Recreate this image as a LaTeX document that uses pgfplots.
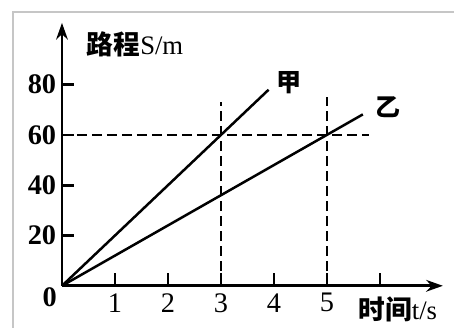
\documentclass[border=0pt]{standalone}
\usepackage{fontspec}
\setmainfont{Liberation Serif}
\newfontfamily\cjk{Noto Sans CJK SC}
\usepackage{pgfplots}
\pgfplotsset{compat=1.18}
\usetikzlibrary{arrows.meta}

\begin{document}
\begin{tikzpicture}
\begin{axis}[
  scale only axis,
  width=228.6pt, height=157.8pt,
  axis lines=left,
  axis line style={line width=1.7pt, -{Stealth[length=10pt,width=7pt]}},
  xmin=0, xmax=7.19, ymin=0, ymax=104.6,
  xtick={1,2,3,4,5,6}, xticklabels={1,2,3,4,5,{}},
  ytick={20,40,60,80},
  tick pos=left,
  tick align=inside,
  major tick length=7.5pt,
  every tick/.style={line width=1.6pt, black},
  /pgf/number format/assume math mode=true,
  ticklabel style={font=\fontsize{17}{17}\selectfont\bfseries},
  xticklabel style={yshift=-1pt, font=\fontsize{17}{17}\selectfont},
  clip=false,
]
% distance-time lines
\addplot[line width=1.5pt] coordinates {(0,0)(3.9,78)};
\addplot[line width=1.5pt] coordinates {(0,0)(5.68,68.2)};
% guide lines
\addplot[line width=1.1pt, dash pattern=on 6pt off 3pt] coordinates {(3,0)(3,73)};
\addplot[line width=1.1pt, dash pattern=on 6pt off 3pt] coordinates {(5,0)(5,75)};
\addplot[line width=1.1pt, dash pattern=on 6pt off 3pt] coordinates {(0,60)(5.8,60)};
\node[font=\cjk\bfseries\fontsize{15}{15}\selectfont] at (axis cs:4.28,81) {甲};
\node[font=\cjk\bfseries\fontsize{15}{15}\selectfont] at (axis cs:6.15,71) {乙};
\node[font=\fontsize{17}{17}\selectfont\bfseries] at (axis cs:-0.23,-4.4) {0};
\node[font=\fontsize{16}{16}\selectfont] at (axis cs:1.38,96) {{\cjk\bfseries 路程}S/m};
\node[font=\fontsize{16}{16}\selectfont] at (axis cs:6.34,-9.5) {{\cjk\bfseries 时间}t/s};
% scan frame
\draw[gray!45, line width=0.9pt] (axis cs:-0.925,-16.7) -- (axis cs:-0.925,108.9) -- (axis cs:7.40,108.9);
\coordinate (bl) at (axis cs:-1.17,-16.7);
\coordinate (tr) at (axis cs:7.40,113.7);
\end{axis}
\pgfresetboundingbox
\useasboundingbox (bl) rectangle (tr);
\end{tikzpicture}
\end{document}
